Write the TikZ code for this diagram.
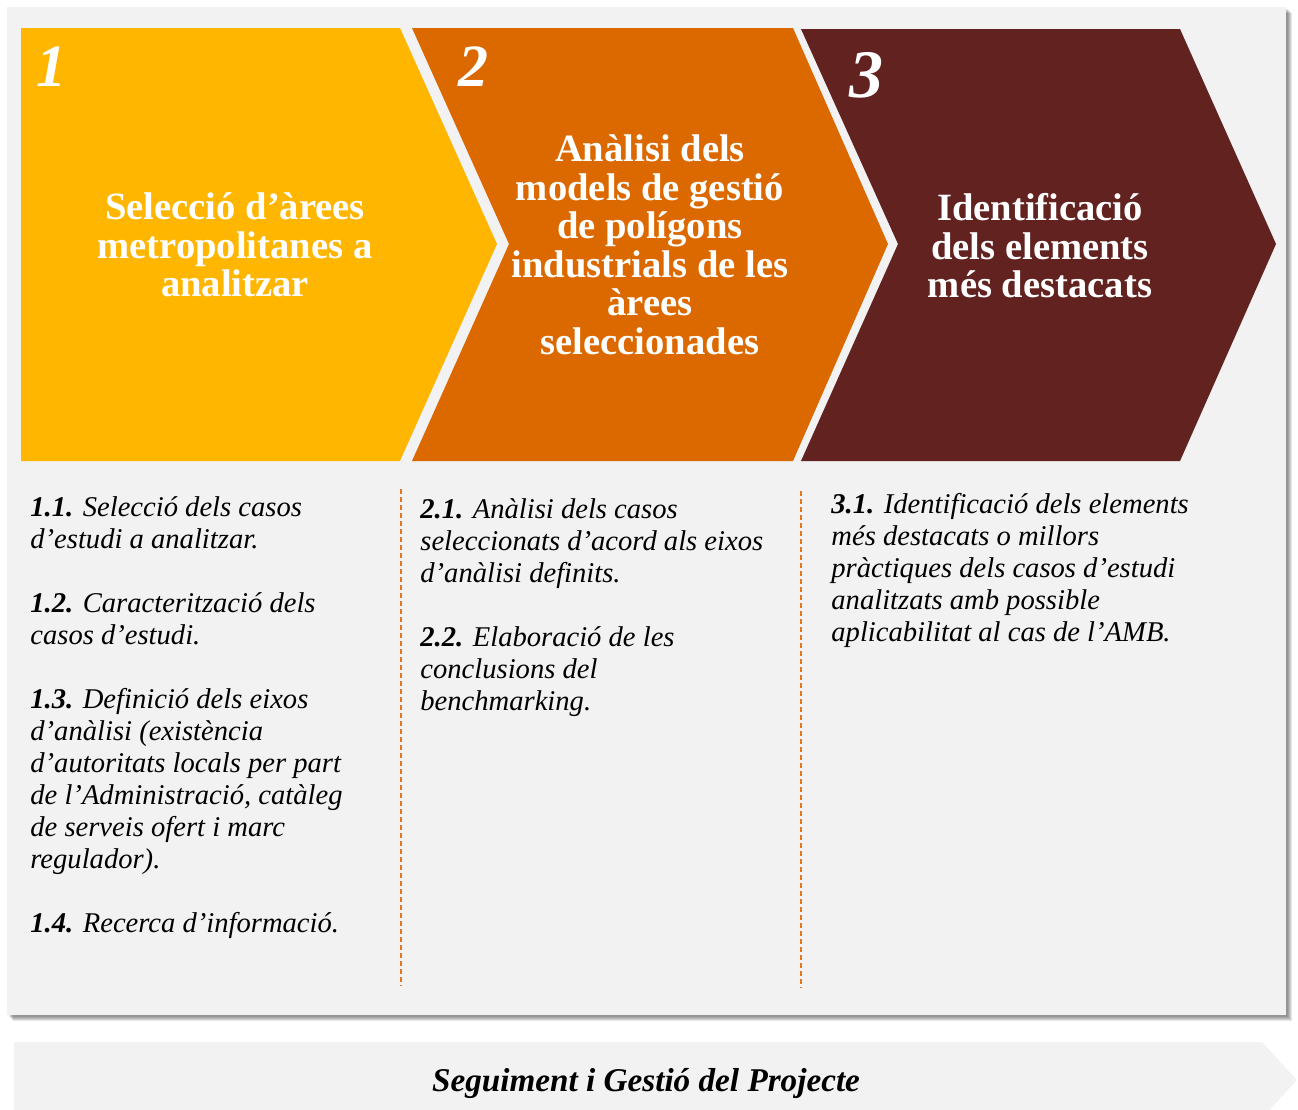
\documentclass[tikz,border=0pt]{standalone}
\usepackage{fontspec}
\setmainfont{Liberation Serif}
\usepackage{xcolor}
\usepackage{tikz}
\usetikzlibrary{calc}
\definecolor{panelgray}{HTML}{F2F2F2}
\definecolor{phaseyellow}{HTML}{FFB600}
\definecolor{phaseorange}{HTML}{DC6900}
\definecolor{phasebrown}{HTML}{612220}
\definecolor{dashorange}{HTML}{E0781E}
\tikzstyle{phase}    = [text=white, font=\fontsize{19.3}{19.25}\selectfont\bfseries, align=center]
\tikzstyle{number}   = [text=white, font=\fontsize{30}{30}\selectfont\bfseries\itshape, anchor=base]
\tikzstyle{tasks}    = [text=black, font=\fontsize{14.3}{16}\selectfont\itshape, align=left, anchor=north west, inner sep=0pt]
\tikzstyle{divider}  = [dashorange, line width=0.75pt, dash pattern=on 2.5pt off 1.5pt]
\tikzstyle{followup} = [text=black, font=\fontsize{16.6}{16.6}\selectfont\bfseries\itshape]

\begin{document}
\begin{tikzpicture}[x=0.5pt, y=-0.5pt]
    \useasboundingbox (0,0) rectangle (1298,1110);

    % panel with shadow
    \foreach \s in {2,3,4,5,6}
      \fill [black, opacity=0.1] (7+\s,7+\s) rectangle (1286+\s,1015+\s);
    \fill [panelgray] (7,7) rectangle (1286,1015);

    % phases
    \fill [phaseyellow] (21,28) -- (400,28) -- (497,244) -- (400,461) -- (21,461) -- cycle;
    \fill [phaseorange] (412,28) -- (793,28) -- (888,244) -- (793,461) -- (412,461) -- (509,244) -- cycle;
    \fill [phasebrown]  (801,29) -- (1180,29) -- (1276,244) -- (1180,461) -- (801,461) -- (898,244) -- cycle;

    \node (num1) [number] at (51,86)  {1};
    \node (num2) [number] at (473,86) {2};
    \node (num3) [number, font=\fontsize{34}{34}\selectfont\bfseries\itshape] at (866,97) {3};

    \node (phase1) [phase] at (235,245) {Selecció d’àrees\\ metropolitanes a\\ analitzar};
    \node (phase2) [phase] at (650,245) {Anàlisi dels\\ models de gestió\\ de polígons\\ industrials de les\\ àrees\\ seleccionades};
    \node (phase3) [phase] at (1040,246) {Identificació\\ dels elements\\ més destacats};

    % tasks
    \node (tasks1) [tasks] at (30,496) {\textbf{1.1.} Selecció dels casos\\ d’estudi a analitzar.\\[16pt]
      \textbf{1.2.} Caracterització dels\\ casos d’estudi.\\[16pt]
      \textbf{1.3.} Definició dels eixos\\ d’anàlisi (existència\\ d’autoritats locals per part\\ de l’Administració, catàleg\\ de serveis ofert i marc\\ regulador).\\[16pt]
      \textbf{1.4.} Recerca d’informació.};
    \node (tasks2) [tasks] at (420,498) {\textbf{2.1.} Anàlisi dels casos\\ seleccionats d’acord als eixos\\ d’anàlisi definits.\\[16pt]
      \textbf{2.2.} Elaboració de les\\ conclusions del\\ benchmarking.};
    \node (tasks3) [tasks] at (831,493) {\textbf{3.1.} Identificació dels elements\\ més destacats o millors\\ pràctiques dels casos d’estudi\\ analitzats amb possible\\ aplicabilitat al cas de l’AMB.};

    \coordinate (div1top) at (401,489);
    \coordinate (div1bot) at (401,986);
    \coordinate (div2top) at (801,491);
    \coordinate (div2bot) at (801,988);
    \draw [divider] (div1top) -- (div1bot);
    \draw [divider] (div2top) -- (div2bot);

    % follow-up bar
    \fill [panelgray] (14,1042) -- (1262,1042) -- (1297,1080) -- (1262,1118) -- (14,1118) -- cycle;
    \node (project) [followup] at (646,1083) {Seguiment i Gestió del Projecte};

  \end{tikzpicture}
\end{document}
